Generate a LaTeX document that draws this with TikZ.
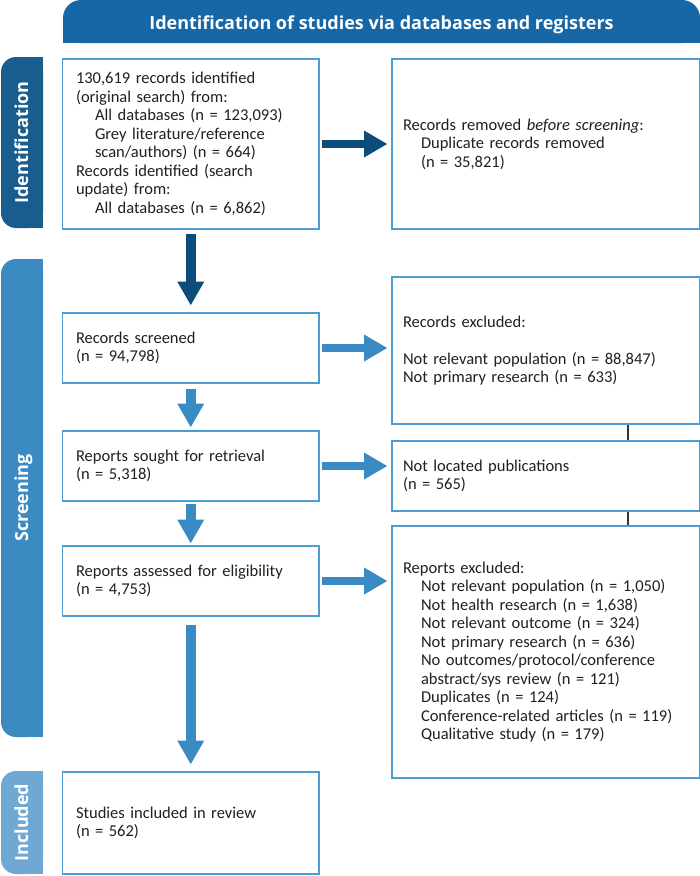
\documentclass[tikz,border=0pt]{standalone}
\usepackage{fontspec}
\setmainfont{Carlito}
\newfontfamily\bandfont{Open Sans}
\usetikzlibrary{arrows.meta}
\definecolor{hdr}{HTML}{1767A7}
\definecolor{idband}{HTML}{195C8E}
\definecolor{darkarr}{HTML}{0D4D7C}
\definecolor{scrband}{HTML}{3B8AC1}
\definecolor{lightarr}{HTML}{3A8AC3}
\definecolor{incband}{HTML}{6FA9D3}
\definecolor{boxline}{HTML}{4D9DD3}
\definecolor{txt}{HTML}{231F20}
\definecolor{conn}{HTML}{333333}
\begin{document}
\begin{tikzpicture}[x=1pt,y=-1pt,
  basebox/.style={draw=boxline, line width=1.8pt, anchor=north west, align=left,
    inner ysep=0pt, font=\fontsize{16.5}{18.5}\selectfont, text=txt},
  lbox/.style={basebox, text width=229.5pt, inner xsep=13.5pt, minimum height=#1},
  rbox/.style={basebox, text width=285.5pt, inner xsep=11pt, minimum height=#1},
  bandlabel/.style={rotate=90, anchor=base, text=white, inner sep=0pt,
    font=\bandfont\bfseries\fontsize{18}{18}\selectfont},
  downarrow/.style={line width=10pt, draw=#1,
    -{Triangle[width=27pt,length=23.5pt,line width=0pt]}},
  rightarrow/.style={line width=8.7pt, draw=#1,
    -{Triangle[width=27pt,length=23pt,line width=0pt]}},
  connector/.style={draw=conn, line width=1.5pt}
]
\useasboundingbox (0,0) rectangle (700,876);
\fill[white] (0,0) rectangle (700,876);

% header
\fill[hdr, rounded corners=18pt] (63,0) rectangle (700,43);
\fill[hdr] (63,22) rectangle (700,43);
\node[anchor=base, text=white, inner sep=0pt,
  font=\bandfont\bfseries\fontsize{18}{18}\selectfont] (hd) at (381.5,29)
  {Identification of studies via databases and registers};

% side bands
\fill[idband, rounded corners=15pt] (1,57) rectangle (43,228);
\fill[idband] (25,57) rectangle (43,228);
\node[bandlabel] (lid) at (28,142.5) {Identification};

\fill[scrband, rounded corners=15pt] (1,259) rectangle (43,737);
\fill[scrband] (25,259) rectangle (43,737);
\node[bandlabel] (lscr) at (28,498) {Screening};

\fill[incband, rounded corners=15pt] (1,771) rectangle (43,874);
\fill[incband] (25,771) rectangle (43,874);
\node[bandlabel] (linc) at (28,822.5) {Included};

% boxes
\node[lbox=170pt] (id1) at (61.6,58.1)
  {130,619 records identified\\
   (original search) from:\\
   \hspace*{19pt}All databases (n = 123,093)\\
   \hspace*{19pt}Grey literature/reference\\
   \hspace*{19pt}scan/authors) (n = 664)\\
   Records identified (search\\
   update) from:\\
   \hspace*{19pt}All databases (n = 6,862)};

\node[rbox=170pt] (rem) at (391.1,58.1)
  {Records removed \textit{before screening}:\\
   \hspace*{18pt}Duplicate records removed\\
   \hspace*{18pt}(n = 35,821)};

\node[lbox=70pt] (scr) at (61.6,312.1)
  {Records screened\\(n = 94,798)};

\node[rbox=147pt] (exc) at (391.1,276.1)
  {Records excluded:\\[18.5pt]
   Not relevant population (n = 88,847)\\
   Not primary research (n = 633)};

\node[lbox=70pt] (sou) at (61.6,430.1)
  {Reports sought for retrieval\\(n = 5,318)};

\node[rbox=70pt] (nl) at (391.1,440.1)
  {Not located publications\\(n = 565)};

\node[lbox=70pt] (ass) at (61.6,545.1)
  {Reports assessed for eligibility\\(n = 4,753)};

\node[rbox=252pt] (rex) at (391.1,525.1)
  {Reports excluded:\\
   \hspace*{18pt}Not relevant population (n = 1,050)\\
   \hspace*{18pt}Not health research (n = 1,638)\\
   \hspace*{18pt}Not relevant outcome (n = 324)\\
   \hspace*{18pt}Not primary research (n = 636)\\
   \hspace*{18pt}No outcomes/protocol/conference\\
   \hspace*{18pt}abstract/sys review (n = 121)\\
   \hspace*{18pt}Duplicates (n = 124)\\
   \hspace*{18pt}Conference-related articles (n = 119)\\
   \hspace*{18pt}Qualitative study (n = 179)};

\node[lbox=102pt] (inc) at (61.6,771.1)
  {Studies included in review\\(n = 562)};

% arrows
\draw[downarrow=darkarr, shorten <=4pt, shorten >=7pt] (id1.south) -- (scr.north);
\draw[rightarrow=darkarr, shorten <=2pt, shorten >=4pt] (id1.east) -- (id1.east -| rem.west);

\draw[downarrow=lightarr, shorten <=5pt, shorten >=3pt] (scr.south) -- (sou.north);
\draw[downarrow=lightarr, shorten <=2pt, shorten >=2pt] (sou.south) -- (ass.north);
\draw[downarrow=lightarr, shorten <=8pt, shorten >=7pt] (ass.south) -- (inc.north);

\draw[rightarrow=lightarr, shorten <=2pt, shorten >=4pt] (scr.east) -- (scr.east -| exc.west);
\draw[rightarrow=lightarr, shorten <=2pt, shorten >=4pt] (sou.east) -- (sou.east -| nl.west);
\draw[rightarrow=lightarr, shorten <=2pt, shorten >=4pt] (ass.east) -- (ass.east -| rex.west);

% connectors between exclusion boxes
\coordinate (cx) at (628,0);
\draw[connector] (exc.south -| cx) -- (nl.north -| cx);
\draw[connector] (nl.south -| cx) -- (rex.north -| cx);
\end{tikzpicture}
\end{document}
